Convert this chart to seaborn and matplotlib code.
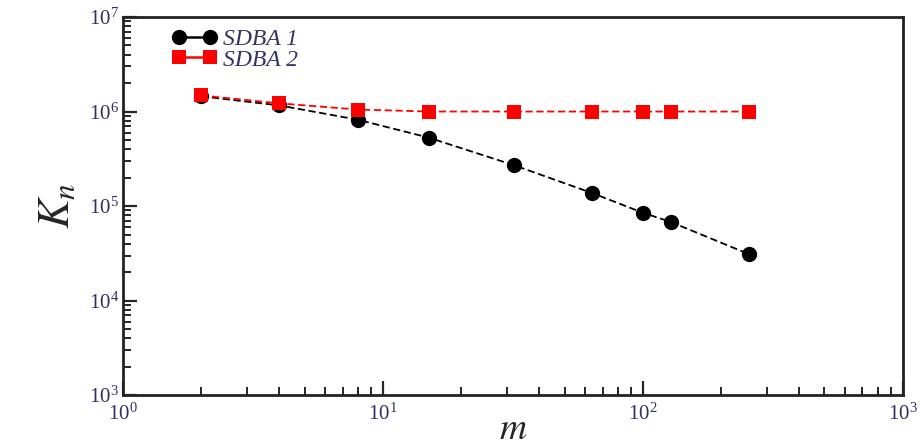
import matplotlib
matplotlib.use("Agg")
import matplotlib.pyplot as plt
import seaborn as sns
import pandas as pd
from matplotlib.lines import Line2D
from matplotlib.ticker import LogLocator, NullFormatter

m_values = [2, 4, 8, 15, 32, 64, 100, 128, 256]
sdba1 = [1.45e6, 1.16e6, 8.2e5, 5.3e5, 2.7e5, 1.37e5, 8.5e4, 6.8e4, 3.1e4]
sdba2 = [1.48e6, 1.22e6, 1.05e6, 1.0e6, 1.0e6, 1.0e6, 1.0e6, 1.0e6, 1.0e6]
labels = ["SDBA 1", "SDBA 2"]

sns.set_style("ticks")
plt.rcParams["font.family"] = ["Liberation Serif", "DejaVu Serif"]
plt.rcParams["mathtext.fontset"] = "stix"

fig = plt.figure(figsize=(9.24, 4.47), dpi=100)
ax = fig.add_axes([0.133, 0.116, 0.844, 0.846])

df1 = pd.DataFrame({"m": m_values, "K": sdba1})
df2 = pd.DataFrame({"m": m_values, "K": sdba2})

sns.lineplot(data=df1, x="m", y="K", ax=ax, color="black", marker="o",
             markersize=11, markeredgewidth=0, linestyle=(0, (4, 2)), linewidth=1.3)
sns.lineplot(data=df2, x="m", y="K", ax=ax, color="red", marker="s",
             markersize=10, markeredgewidth=0, linestyle=(0, (4, 2)), linewidth=1.3)

ax.set_xscale("log")
ax.set_yscale("log")
ax.set_xlim(1, 1000)
ax.set_ylim(1e3, 1e7)

for s in ax.spines.values():
    s.set_linewidth(2)
    s.set_color("#222222")

tick_color = "#303060"
ax.xaxis.set_major_locator(LogLocator(base=10, numticks=10))
ax.yaxis.set_major_locator(LogLocator(base=10, numticks=10))
ax.xaxis.set_minor_locator(LogLocator(base=10, subs=range(2, 10), numticks=20))
ax.yaxis.set_minor_locator(LogLocator(base=10, subs=range(2, 10), numticks=20))
ax.xaxis.set_minor_formatter(NullFormatter())
ax.yaxis.set_minor_formatter(NullFormatter())
ax.tick_params(which="major", direction="in", length=10, width=1.6,
               labelsize=15, labelcolor=tick_color, top=False, right=False, pad=3)
ax.tick_params(axis="x", which="major", pad=6)
ax.tick_params(which="minor", direction="in", length=6, width=1.4,
               top=False, right=False)

ax.set_xlabel(r"$m$", fontsize=27, labelpad=-9)
ax.set_ylabel(r"$K_n$", fontsize=32, labelpad=8)

handles = [
    Line2D([], [], color="black", marker="o", markersize=11, markeredgewidth=0,
           linestyle="-", linewidth=1.8),
    Line2D([], [], color="red", marker="s", markersize=10, markeredgewidth=0,
           linestyle="-", linewidth=1.8),
]
ax.legend(handles, labels, loc="upper left", frameon=False, numpoints=2,
          prop={"family": "Liberation Serif", "style": "italic", "size": 17},
          handlelength=1.9, handletextpad=0.25, labelspacing=-0.05,
          borderpad=0, borderaxespad=0, bbox_to_anchor=(0.063, 0.969),
          labelcolor="#333366")

fig.savefig("out.png", dpi=100)
